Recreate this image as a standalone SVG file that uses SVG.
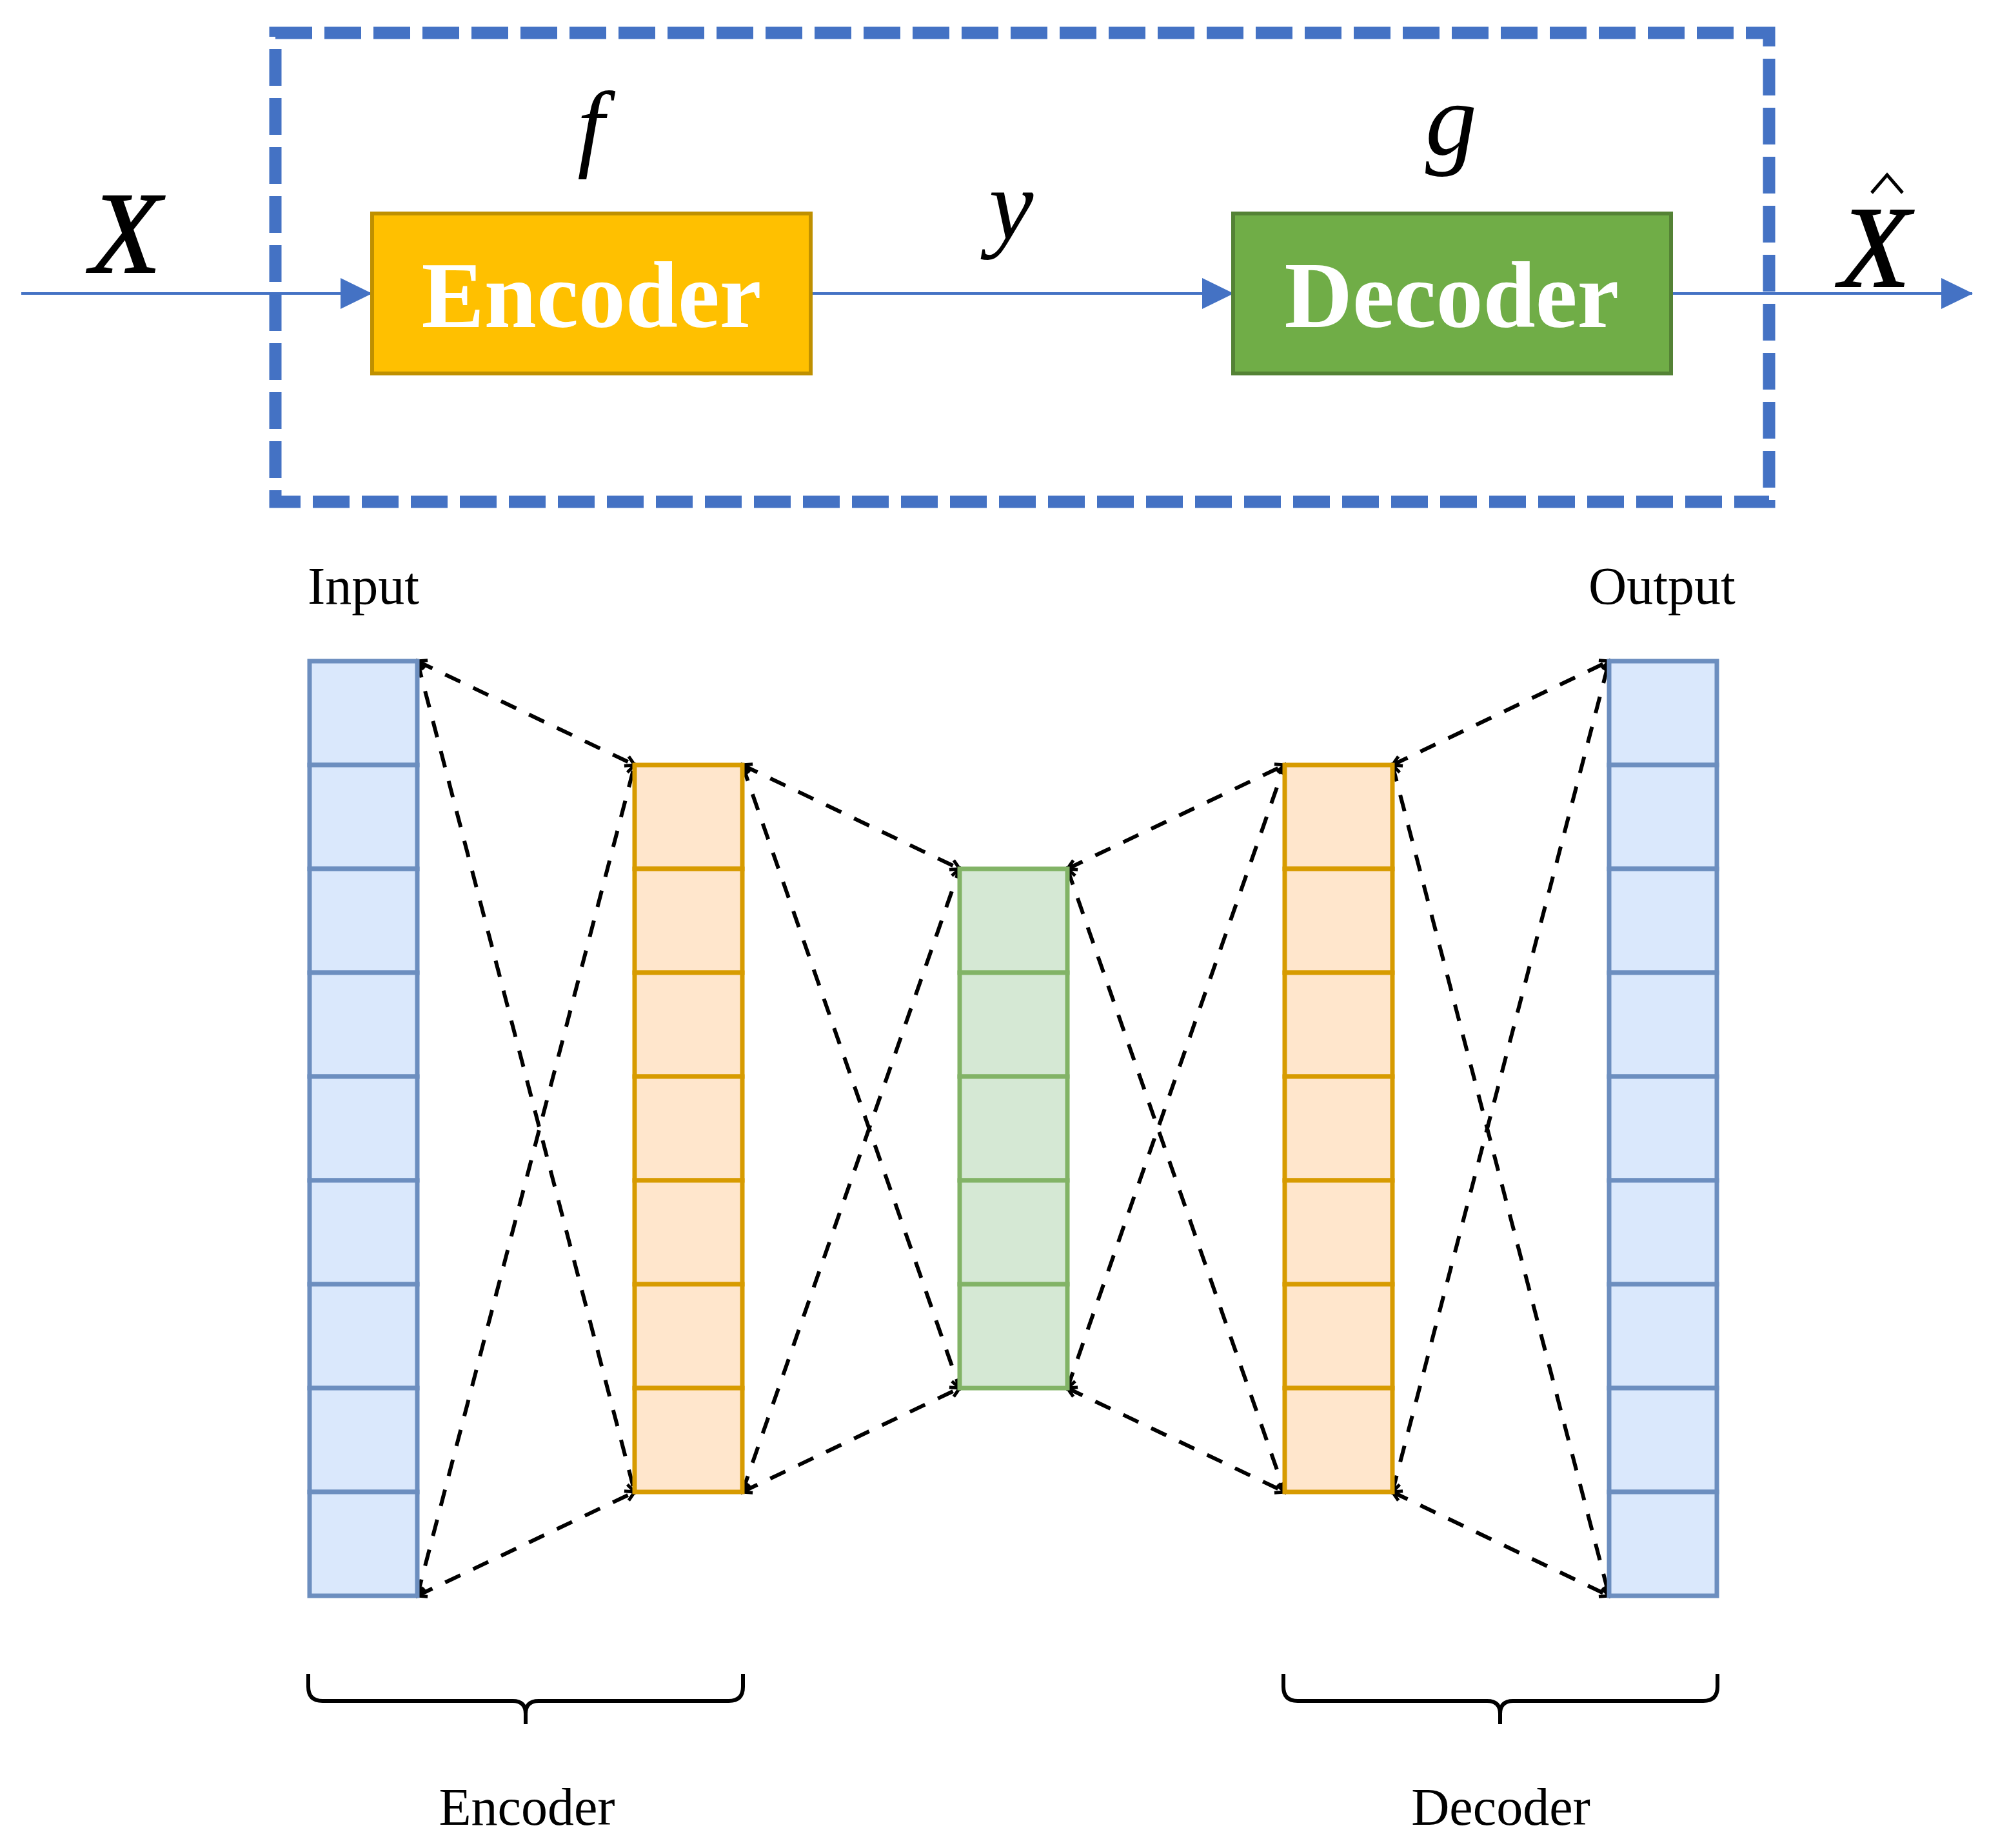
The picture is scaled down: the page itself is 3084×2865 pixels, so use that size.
<svg xmlns="http://www.w3.org/2000/svg" width="3084" height="2865" viewBox="0 0 3084 2865">
<style>
.math{font-family:"Liberation Serif","Times New Roman",serif;font-style:italic;fill:#000;text-anchor:middle}
.heavy{stroke:#000;stroke-width:2}
.lbl{font-family:"Liberation Serif","Times New Roman",serif;font-size:82px;fill:#000}
.boxt{font-family:"Liberation Serif","Times New Roman",serif;font-weight:bold;font-size:146px;fill:#fff;text-anchor:middle}
.flow{stroke:#4472C4;stroke-width:4;fill:none}
.blue rect{fill:#DAE8FC;stroke:#6C8EBF;stroke-width:7}
.orange rect{fill:#FFE6CC;stroke:#D79B00;stroke-width:7}
.green rect{fill:#D5E8D4;stroke:#82B366;stroke-width:7}
.conn line{stroke:#000;stroke-width:6;stroke-dasharray:26 22;fill:none}
.brace{stroke:#000;stroke-width:6;fill:none}
</style>
<defs>
<marker id="tri" markerUnits="userSpaceOnUse" markerWidth="50" markerHeight="50" viewBox="0 0 50 50" refX="48" refY="25" orient="auto">
<path d="M0,1 L49,25 L0,49 Z" fill="#4472C4"/>
</marker>
<marker id="chev" markerUnits="userSpaceOnUse" markerWidth="24" markerHeight="24" viewBox="0 0 24 24" refX="20" refY="12" orient="auto-start-reverse">
<path d="M6,4 L20,12 L6,20" fill="none" stroke="#000" stroke-width="5"/>
</marker>
</defs>
<rect width="3084" height="2865" fill="#fff"/>

<g id="frame">
<rect x="427" y="51" width="2316" height="727" fill="none" stroke="#4472C4" stroke-width="19" stroke-dasharray="57 19"/>
</g>

<g id="flow-connectors">
<line class="flow" x1="33" y1="455" x2="576" y2="455" marker-end="url(#tri)"/>
<line class="flow" x1="1257" y1="455" x2="1912" y2="455" marker-end="url(#tri)"/>
<line class="flow" x1="2591" y1="455" x2="3058" y2="455" marker-end="url(#tri)"/>
</g>

<g id="label-X"><text class="math heavy" x="195" y="422" font-size="180">X</text></g>
<g id="label-f"><text class="math" x="916" y="246" font-size="150">f</text></g>
<g id="label-y"><text class="math" x="1568" y="370" font-size="155">y</text></g>
<g id="label-g"><text class="math" x="2250" y="240" font-size="160">g</text></g>
<g id="label-Xhat">
<text class="math heavy" x="2907" y="444" font-size="180">X</text>
<path d="M2902,299 L2926,271 L2950,299" fill="none" stroke="#000" stroke-width="5"/>
</g>

<g id="encoder-box">
<rect x="577" y="331" width="680" height="248" fill="#FFC000" stroke="#BF9000" stroke-width="6"/>
<text class="boxt" x="917" y="507">Encoder</text>
</g>
<g id="decoder-box">
<rect x="1912" y="331" width="679" height="248" fill="#70AD47" stroke="#548235" stroke-width="6"/>
<text class="boxt" x="2251" y="507">Decoder</text>
</g>

<g id="input-label"><text class="lbl" x="477" y="936">Input</text></g>
<g id="output-label"><text class="lbl" x="2463" y="936">Output</text></g>

<g id="connectors" class="conn">
<line x1="647" y1="1025" x2="984" y2="1186" marker-start="url(#chev)" marker-end="url(#chev)"/>
<line x1="647" y1="2474" x2="984" y2="2313" marker-start="url(#chev)" marker-end="url(#chev)"/>
<line x1="647" y1="1025" x2="984" y2="2313" marker-start="url(#chev)" marker-end="url(#chev)"/>
<line x1="647" y1="2474" x2="984" y2="1186" marker-start="url(#chev)" marker-end="url(#chev)"/>
<line x1="1151" y1="1186" x2="1488" y2="1347" marker-start="url(#chev)" marker-end="url(#chev)"/>
<line x1="1151" y1="2313" x2="1488" y2="2152" marker-start="url(#chev)" marker-end="url(#chev)"/>
<line x1="1151" y1="1186" x2="1488" y2="2152" marker-start="url(#chev)" marker-end="url(#chev)"/>
<line x1="1151" y1="2313" x2="1488" y2="1347" marker-start="url(#chev)" marker-end="url(#chev)"/>
<line x1="1655" y1="1347" x2="1992" y2="1186" marker-start="url(#chev)" marker-end="url(#chev)"/>
<line x1="1655" y1="2152" x2="1992" y2="2313" marker-start="url(#chev)" marker-end="url(#chev)"/>
<line x1="1655" y1="1347" x2="1992" y2="2313" marker-start="url(#chev)" marker-end="url(#chev)"/>
<line x1="1655" y1="2152" x2="1992" y2="1186" marker-start="url(#chev)" marker-end="url(#chev)"/>
<line x1="2159" y1="1186" x2="2495" y2="1025" marker-start="url(#chev)" marker-end="url(#chev)"/>
<line x1="2159" y1="2313" x2="2495" y2="2474" marker-start="url(#chev)" marker-end="url(#chev)"/>
<line x1="2159" y1="1186" x2="2495" y2="2474" marker-start="url(#chev)" marker-end="url(#chev)"/>
<line x1="2159" y1="2313" x2="2495" y2="1025" marker-start="url(#chev)" marker-end="url(#chev)"/>
</g>

<g id="input-layer" class="blue">
<rect x="480" y="1025" width="167" height="161"/>
<rect x="480" y="1186" width="167" height="161"/>
<rect x="480" y="1347" width="167" height="161"/>
<rect x="480" y="1508" width="167" height="161"/>
<rect x="480" y="1669" width="167" height="161"/>
<rect x="480" y="1830" width="167" height="161"/>
<rect x="480" y="1991" width="167" height="161"/>
<rect x="480" y="2152" width="167" height="161"/>
<rect x="480" y="2313" width="167" height="161"/>
</g>
<g id="encoder-hidden-layer" class="orange">
<rect x="984" y="1186" width="167" height="161"/>
<rect x="984" y="1347" width="167" height="161"/>
<rect x="984" y="1508" width="167" height="161"/>
<rect x="984" y="1669" width="167" height="161"/>
<rect x="984" y="1830" width="167" height="161"/>
<rect x="984" y="1991" width="167" height="161"/>
<rect x="984" y="2152" width="167" height="161"/>
</g>
<g id="code-layer" class="green">
<rect x="1488" y="1347" width="167" height="161"/>
<rect x="1488" y="1508" width="167" height="161"/>
<rect x="1488" y="1669" width="167" height="161"/>
<rect x="1488" y="1830" width="167" height="161"/>
<rect x="1488" y="1991" width="167" height="161"/>
</g>
<g id="decoder-hidden-layer" class="orange">
<rect x="1992" y="1186" width="167" height="161"/>
<rect x="1992" y="1347" width="167" height="161"/>
<rect x="1992" y="1508" width="167" height="161"/>
<rect x="1992" y="1669" width="167" height="161"/>
<rect x="1992" y="1830" width="167" height="161"/>
<rect x="1992" y="1991" width="167" height="161"/>
<rect x="1992" y="2152" width="167" height="161"/>
</g>
<g id="output-layer" class="blue">
<rect x="2495" y="1025" width="167" height="161"/>
<rect x="2495" y="1186" width="167" height="161"/>
<rect x="2495" y="1347" width="167" height="161"/>
<rect x="2495" y="1508" width="167" height="161"/>
<rect x="2495" y="1669" width="167" height="161"/>
<rect x="2495" y="1830" width="167" height="161"/>
<rect x="2495" y="1991" width="167" height="161"/>
<rect x="2495" y="2152" width="167" height="161"/>
<rect x="2495" y="2313" width="167" height="161"/>
</g>

<g id="encoder-brace">
<path class="brace" d="M478,2595 V2615 Q478,2637 500,2637 H795 Q815,2637 815,2657 V2673 M815,2657 Q815,2637 835,2637 H1130 Q1152,2637 1152,2615 V2595"/>
<text class="lbl" x="817" y="2829" text-anchor="middle">Encoder</text>
</g>
<g id="decoder-brace">
<path class="brace" d="M1990,2595 V2615 Q1990,2637 2012,2637 H2306 Q2326,2637 2326,2657 V2673 M2326,2657 Q2326,2637 2346,2637 H2641 Q2663,2637 2663,2615 V2595"/>
<text class="lbl" x="2327" y="2829" text-anchor="middle">Decoder</text>
</g>
</svg>
